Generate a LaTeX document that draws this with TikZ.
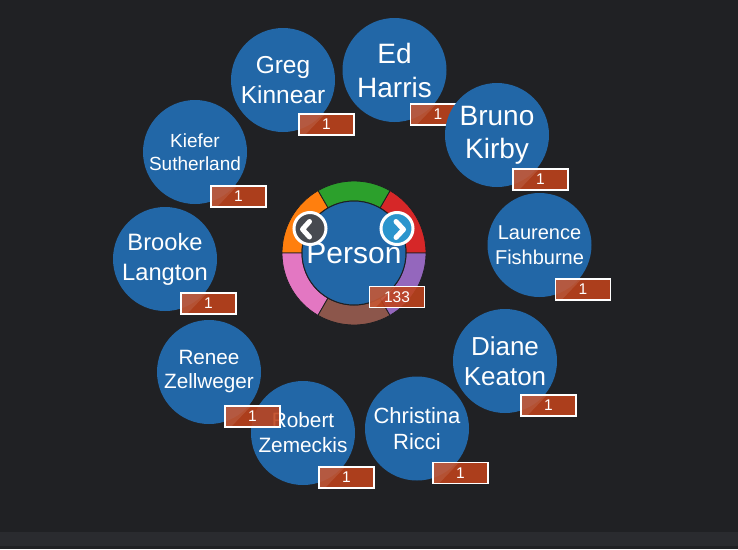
\documentclass[tikz,border=0pt]{standalone}
\usepackage{fontspec}
\setmainfont{Liberation Sans}
\usetikzlibrary{calc}
\definecolor{bgcol}{HTML}{202124}
\definecolor{stripcol}{HTML}{2A2B2F}
\definecolor{nodeblue}{HTML}{2267A7}
\definecolor{edgecol}{HTML}{55585E}
\definecolor{badgecol}{HTML}{C0431B}
\definecolor{segsep}{HTML}{1E1F22}
\definecolor{sgreen}{HTML}{2CA02C}
\definecolor{sred}{HTML}{D62728}
\definecolor{spurple}{HTML}{9467BD}
\definecolor{sbrown}{HTML}{8C564B}
\definecolor{spink}{HTML}{E377C2}
\definecolor{sorange}{HTML}{FF7F0E}
\definecolor{btngray}{HTML}{474A50}
\definecolor{btnblue}{HTML}{2B95CD}
\pgfdeclarelayer{edges}
\pgfsetlayers{edges,main}
\begin{document}
\begin{tikzpicture}[x=1pt,y=-1pt,
  sat/.style={circle, fill=nodeblue, minimum size=104pt, inner sep=0pt, text=white, align=center},
  badge/.style={rectangle, fill=badgecol, fill opacity=0.88, text opacity=1, draw=white, draw opacity=1,
     line width=1.4pt, minimum width=55pt, minimum height=21pt, inner sep=0pt, text=white,
     font=\fontsize{15.5}{16}\selectfont,
     path picture={\fill[white,opacity=0.10] (path picture bounding box.north west) -- ++(26pt,0pt) -- ([xshift=6pt]path picture bounding box.south west) -- (path picture bounding box.south west) -- cycle;}},
  edge/.style={draw=edgecol, line width=0.9pt},
  seg/.style={draw=segsep, line width=0.8pt},
  btn/.style={circle, draw=white, line width=3pt, minimum size=32pt, inner sep=0pt},
  chev/.style={draw=white, line width=5pt, line cap=round, line join=round}]
% background
\fill[bgcol] (0,0) rectangle (738,549);
\fill[stripcol] (0,532) rectangle (738,546);
\useasboundingbox (0,0) rectangle (738,549);

% ring segments (canvas polar, visual angles)
\coordinate (c) at (354,253);
\foreach \a/\b/\col in {0/60/sred, 60/120/sgreen, 120/180/sorange, 180/240/spink, 240/300/sbrown, 300/360/spurple}{
  \filldraw[seg, fill=\col] ($(c)+(\a:72pt)$) arc[start angle=\a, end angle=\b, radius=72pt]
     -- ($(c)+(\b:52pt)$) arc[start angle=\b, end angle=\a, radius=52pt] -- cycle;
}
\node[circle, fill=nodeblue, draw=segsep, line width=1pt, minimum size=104pt, inner sep=0pt, text=white,
      font=\fontsize{30}{30}\selectfont] (person) at (c) {Person};
\node[badge] (person-b) at ([shift={(43,44)}]c) {133};

% buttons
\node[btn, fill=btngray] (btnl) at (310,228.5) {};
\draw[chev] ([shift={(-0.5,-7)}]btnl.center) -- ([shift={(-7.5,0.8)}]btnl.center) -- ([shift={(-0.5,8.5)}]btnl.center);
\node[btn, fill=btnblue] (btnr) at (397,228.5) {};
\draw[chev] ([shift={(-1,-7)}]btnr.center) -- ([shift={(6.5,1)}]btnr.center) -- ([shift={(-1,9)}]btnr.center);

% satellites
\node[sat, font=\fontsize{19}{23}\selectfont] (kiefer) at (195,152) {Kiefer\\Sutherland};
\node[badge] (kiefer-b) at ([shift={(43.5,44.5)}]kiefer.center) {1};
\node[sat, font=\fontsize{24.5}{29.5}\selectfont] (greg) at (283,80) {Greg\\Kinnear};
\node[badge] (greg-b) at ([shift={(43.5,44.5)}]greg.center) {1};
\node[sat, font=\fontsize{28}{34}\selectfont] (ed) at (394.5,70) {Ed\\Harris};
\node[badge] (ed-b) at ([shift={(43.5,44.5)}]ed.center) {1};
\node[sat, font=\fontsize{28}{33}\selectfont] (bruno) at (497,135) {Bruno\\Kirby};
\node[badge] (bruno-b) at ([shift={(43.5,44.5)}]bruno.center) {1};
\node[sat, font=\fontsize{20}{25}\selectfont] (laurence) at (539.5,245) {Laurence\\Fishburne};
\node[badge] (laurence-b) at ([shift={(43.5,44.5)}]laurence.center) {1};
\node[sat, font=\fontsize{26}{30}\selectfont] (diane) at (505,361) {Diane\\Keaton};
\node[badge] (diane-b) at ([shift={(43.5,44.5)}]diane.center) {1};
\node[sat, font=\fontsize{22}{26}\selectfont] (christina) at (417,428.5) {Christina\\Ricci};
\node[badge] (christina-b) at ([shift={(43.5,44.5)}]christina.center) {1};
\node[sat, font=\fontsize{20.8}{25}\selectfont] (robert) at (303,433) {Robert\\Zemeckis};
\node[badge] (robert-b) at ([shift={(43.5,44.5)}]robert.center) {1};
\node[sat, font=\fontsize{20.7}{24}\selectfont] (renee) at (209,372) {Renee\\Zellweger};
\node[badge] (renee-b) at ([shift={(43.5,44.5)}]renee.center) {1};
\node[sat, font=\fontsize{23.7}{30}\selectfont] (brooke) at (165,259) {Brooke\\Langton};
\node[badge] (brooke-b) at ([shift={(43.5,44.5)}]brooke.center) {1};

% edges (behind)
\begin{pgfonlayer}{edges}
\foreach \n in {kiefer,greg,ed,bruno,laurence,diane,christina,robert,renee,brooke}{
  \draw[edge] (person.center) -- (\n.center);
}
\end{pgfonlayer}
\end{tikzpicture}
\end{document}
